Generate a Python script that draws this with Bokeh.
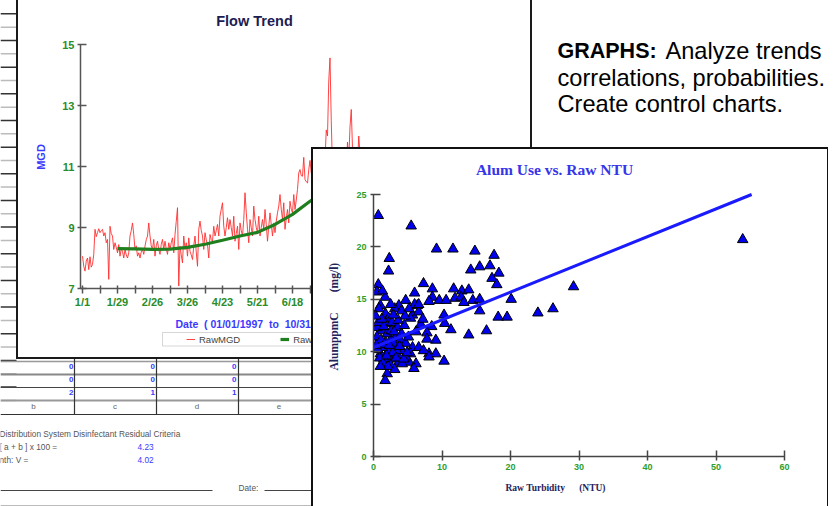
import math
from bokeh.plotting import figure
from bokeh.models import (GridBox, Label, Legend, LegendItem, FixedTicker, Range1d, Title,
                          BoxAnnotation)
from bokeh.core.properties import value
from bokeh.embed import file_html
from bokeh.resources import INLINE

# ------------------------------------------------------------------ data
# Flow Trend (daily raw flow, MGD), day 0 = 01/01/1997
raw_mgd = [
    8.06, 7.73, 7.57, 7.90, 8.00, 7.62, 8.04, 7.70, 7.79, 8.12, 8.94, 8.70,
    8.83, 8.96, 8.83, 8.90, 8.94, 8.72, 8.83, 8.50, 8.61, 7.30, 9.04, 8.80,
    8.72, 8.28, 8.50, 8.35, 8.17, 8.44, 8.06, 8.30, 8.22, 8.00, 8.28, 8.10,
    8.00, 8.17, 8.72, 8.90, 9.15, 8.77, 8.28, 8.40, 8.06, 8.17, 8.00, 8.20,
    8.28, 8.12, 8.39, 8.60, 8.72, 9.15, 8.72, 8.40, 8.28, 8.61, 8.06, 8.40,
    8.55, 8.28, 8.12, 8.45, 8.61, 8.28, 8.55, 8.30, 8.12, 8.50, 8.28, 8.50,
    8.66, 8.17, 8.77, 9.20, 9.65, 7.08, 8.39, 8.10, 7.84, 8.72, 8.28, 8.50,
    8.06, 8.66, 8.22, 8.10, 7.95, 8.39, 8.72, 8.20, 7.73, 8.94, 9.21, 8.90,
    8.72, 8.28, 8.83, 8.60, 8.44, 8.00, 8.77, 8.60, 8.55, 9.04, 8.72, 8.90,
    9.10, 8.72, 9.37, 9.60, 9.81, 9.04, 8.72, 9.00, 9.32, 8.94, 9.26, 9.00,
    8.72, 9.37, 8.55, 8.80, 9.04, 8.28, 9.15, 8.90, 8.72, 9.26, 10.14, 9.50,
    8.94, 8.50, 9.26, 9.00, 8.72, 9.70, 9.26, 9.00, 8.83, 9.37, 8.72, 9.00,
    9.26, 8.94, 9.59, 9.10, 8.55, 9.04, 9.48, 9.10, 8.72, 9.15, 8.83, 9.20,
    9.48, 9.70, 10.08, 9.60, 9.26, 9.81, 8.94, 9.30, 9.59, 9.15, 9.86, 9.60,
    9.48, 10.08, 9.59, 9.90, 10.25, 10.79, 10.90, 10.70, 10.68, 11.30, 10.57,
    10.50, 10.46,
    10.90, 11.20, 10.80, 11.10, 10.60, 10.90, 11.30, 10.70, 11.00, 10.60,
    10.90, 11.20, 10.80,
    11.20, 12.20, 12.00, 13.80, 14.56, 12.50, 10.90,
    10.70, 11.00, 10.50, 10.80, 11.20, 10.60, 10.90, 10.40, 10.80, 11.10,
    10.90, 11.80, 11.20, 12.30, 12.87, 11.60, 10.90,
    10.60, 11.00, 11.10, 12.00, 11.40, 10.80,
    10.50, 10.90, 11.10, 10.70, 10.40, 10.80, 11.00, 10.60, 10.30, 10.70,
    10.90, 10.50, 10.20, 10.60, 10.80, 10.40, 10.10, 10.50, 10.70, 10.30,
    10.60, 10.90, 10.40, 10.20, 10.50, 10.80, 10.30, 10.00, 10.40, 10.60,
    10.20, 10.50, 10.70, 10.30, 9.90, 10.30, 10.50, 10.10, 9.80, 10.20,
    10.40, 10.00, 9.70, 10.10, 10.30, 9.90, 9.60, 10.00, 10.20, 9.80,
    9.50, 9.90, 10.10, 9.70, 9.40, 9.80, 10.00, 9.60, 9.30, 9.70,
    9.90, 9.50, 9.20, 9.60, 9.80, 9.40, 9.10, 9.50, 9.70, 9.30,
    9.00, 9.40, 9.60, 9.20, 8.90, 9.30, 9.50, 9.10, 8.80, 9.20,
]
raw_days = list(range(len(raw_mgd)))

avg_days = [28, 42, 56, 70, 84, 98, 112, 126, 140, 154, 168, 182,
            196, 210, 224, 238, 252, 266, 280, 294]
avg_mgd = [8.31, 8.30, 8.28, 8.29, 8.35, 8.45, 8.58, 8.72, 8.84, 9.10, 9.43,
           9.86, 10.25, 10.55, 10.75, 10.80, 10.60, 10.30, 10.00, 9.60]

flow_tick_days = [0, 14, 28, 42, 56, 70, 84, 98, 112, 126, 140, 154, 168,
                  182, 196, 210, 224, 238, 252, 266, 280, 294, 308]
flow_tick_labels = ["1/1", "", "1/29", "", "2/26", "", "3/26", "", "4/23", "",
                    "5/21", "", "6/18", "", "7/16", "", "8/13", "", "9/10", "",
                    "10/8", "", "11/5"]
flow_y_ticks = [7, 9, 11, 13, 15]

# Alum use vs raw turbidity
ntu = [0.7, 5.5, 9.2, 11.6, 14.8, 17.6, 2.3, 2.2, 14.2, 15.5, 17.0, 18.3,
       17.3, 18.0, 0.7, 7.3, 8.6, 11.7, 12.9, 13.9, 6.0, 0.5, 1.7, 4.7, 8.6,
       8.1, 9.6, 10.6, 11.9, 12.8, 13.2, 14.5, 15.5, 20.1, 24.0, 18.2, 19.5,
       15.5, 13.9, 16.5, 10.3, 10.4, 11.3, 8.5, 7.8, 9.1, 8.1, 9.1, 10.3,
       6.4, 5.7, 6.6, 6.0, 5.2, 3.7, 3.1, 2.5, 1.0, 0.8, 1.75, 2.2, 1.8, 2.7,
       3.5, 1.2, 2.0, 3.2, 3.9, 4.7, 5.7, 6.6, 5.4, 4.2, 3.0, 2.2, 1.3, 0.8,
       1.0, 1.5, 2.7, 3.7, 5.2, 6.2, 5.9, 2.5, 2.0, 1.7, 4.2, 4.7, 3.5, 1.75,
       0.5, 0.5, 1.3, 4.1, 5.4, 6.6, 7.8, 7.3, 8.1, 29.2, 26.2, 53.9,
       0.6, 1.1, 1.6, 2.4, 2.9, 3.4, 0.9, 1.4, 2.1, 2.8, 3.3, 4.4, 0.7, 1.5,
       2.6, 3.0, 4.1, 4.5, 1.9, 0.4, 2.3, 3.8, 1.2, 3.6, 2.9, 4.6, 1.0, 3.1,
       4.9, 5.1, 6.2, 6.9, 7.2, 0.3]
alum = [23.0, 22.0, 19.8, 19.8, 19.6, 19.2, 18.9, 17.7, 17.8, 18.1, 18.2,
        17.5, 17.0, 16.4, 16.4, 16.5, 16.0, 16.0, 15.8, 15.9, 15.6, 15.7,
        15.2, 14.9, 15.2, 14.8, 14.9, 14.9, 15.1, 15.2, 14.7, 14.9, 15.0,
        15.0, 13.7, 13.3, 13.3, 13.9, 11.6, 12.0, 13.5, 12.7, 12.1, 12.4,
        11.8, 11.1, 9.8, 9.8, 9.1, 14.4, 13.5, 13.8, 14.5, 14.1, 14.4, 14.1,
        14.5, 14.4, 14.1, 13.6, 13.2, 12.7, 12.8, 12.3, 12.0, 11.7, 11.4,
        11.1, 10.8, 10.4, 10.4, 9.8, 10.1, 10.4, 10.1, 10.4, 10.8, 9.8, 9.3,
        9.3, 9.0, 9.0, 8.85, 8.4, 8.7, 7.9, 7.25, 8.85, 9.5, 9.7, 10.9, 11.4,
        12.3, 15.8, 13.9, 13.2, 14.5, 11.2, 10.1, 9.5, 16.2, 14.1, 20.7,
        10.2, 11.1, 10.7, 11.0, 10.8, 10.1, 9.4, 8.9, 8.6, 9.9, 9.4, 9.3,
        12.8, 12.4, 12.0, 11.9, 11.7, 12.5, 9.6, 10.6, 10.6, 10.5, 13.1,
        13.0, 13.5, 13.4, 8.6, 8.3, 9.9, 11.4, 11.9, 12.6, 13.1, 13.4]
fit_ntu = [0.0, 55.2]
fit_alum = [10.4, 25.0]
ntu_ticks = [0, 10, 20, 30, 40, 50, 60]
alum_ticks = [0, 5, 10, 15, 20, 25]

# spreadsheet fragment
sheet_vals = [["0", "0", "0"], ["0", "0", "0"], ["2", "1", "1"]]
sheet_cols = ["b", "c", "d", "e"]
criteria_labels = ["Distribution System Disinfectant Residual Criteria",
                   "[ a + b ] x 100 =", "nth:  V ="]
criteria_vals = ["4.23", "4.02"]

SANS = "Liberation Sans"
SERIF = "Liberation Serif"
NB = "\u00a0"

# ------------------------------------------------------------------ background (page coords)
pA = figure(width=836, height=506, x_range=Range1d(0, 836), y_range=Range1d(506, 0),
            x_axis_type=None, y_axis_type=None, toolbar_location=None,
            output_backend="svg", min_border=0, outline_line_color=None,
            frame_align=False)
pA.grid.visible = False

stripe_y = [13.33 * k for k in range(1, 31)]
pA.segment(x0=0, x1=16, y0=stripe_y, y1=stripe_y,
           line_color=["#333333" if k % 2 == 0 else "#bbbbbb" for k in range(len(stripe_y))],
           line_width=1.5)
row_y = [361, 374, 387, 400, 414]
pA.segment(x0=0, x1=312, y0=row_y, y1=row_y,
           line_color=["#999999", "#888888", "#444444", "#999999", "#333333"],
           line_width=[1.5, 2, 1.2, 2, 1.2])
pA.segment(x0=[74, 156, 238], x1=[74, 156, 238], y0=357, y1=414,
           line_color="#333333", line_width=1.2)
vx, vy, vt = [], [], []
for r, row in enumerate(sheet_vals):
    for c, v in enumerate(row):
        vx.append([73, 154.5, 236][c]); vy.append([365.5, 378.5, 392.3][r]); vt.append(v)
pA.text(x=vx, y=vy, text=vt, text_align="right", text_baseline="middle",
        text_font=value(SANS), text_font_size="8px", text_font_style="bold",
        text_color="#3a3aff")
pA.text(x=[33, 114.5, 196.5, 278.5], y=405.5, text=sheet_cols, text_align="center",
        text_baseline="middle", text_font=value(SANS), text_font_size="8px",
        text_color="#666666")
pA.text(x=[-1, -1, -1], y=[433.3, 446.7, 459.3], text=criteria_labels,
        text_baseline="middle", text_font=value(SANS), text_font_size="8.3px",
        text_color="#555555")
pA.text(x=[137, 137], y=[446.7, 459.3], text=criteria_vals, text_baseline="middle",
        text_font=value(SANS), text_font_size="8.3px", text_color="#3a3aff")
pA.segment(x0=[0, 264], x1=[212, 312], y0=490, y1=490, line_color="#444444", line_width=1)
pA.text(x=[238], y=[487], text=["Date:"], text_baseline="middle",
        text_font=value(SANS), text_font_size="8.3px", text_color="#555555")
pA.segment(x0=0, x1=312, y0=505, y1=505, line_color="#bbbbbb", line_width=1)

pA.text(x=[557], y=[50.5], text=["GRAPHS:"], text_font=value(SANS),
        text_baseline="middle", text_font_size="21.5px", text_font_style="bold",
        text_color="#000000")
pA.text(x=[665, 557, 557], y=[50.5, 77, 103.5],
        text=["Analyze trends", "correlations, probabilities.", "Create control charts."],
        text_font=value(SANS), text_baseline="middle", text_font_size="23.6px",
        text_color="#000000")

# ------------------------------------------------------------------ Flow Trend window
# frame spans page x 17..529, y 2..350; axes drawn at fixed locations
B_X0, B_PXD, B_PXU = -1.6, 1.25, 30.5     # day at x=80 px, px/day, px/MGD


def bx(px):
    return B_X0 + (px - 80) / B_PXD


def by(py):
    return 7 + (288 - py) / B_PXU


pB = figure(width=516, height=359, x_range=Range1d(bx(17), bx(529)),
            y_range=Range1d(by(350), by(2)), toolbar_location=None,
            output_backend="svg", min_border_left=1, min_border_right=3,
            min_border_top=2, min_border_bottom=9, outline_line_color=None,
            frame_align=False, border_fill_color=None, background_fill_color=None)
pB.styles = {"background-color": "white",
             "box-shadow": "inset 2px 0 0 0 #1a1a1a, inset -2px -2px 0 0 #1a1a1a"}
pB.grid.visible = False
pB.xaxis.ticker = FixedTicker(ticks=flow_tick_days)
pB.xaxis.major_label_overrides = dict(zip(flow_tick_days, flow_tick_labels))
pB.xaxis.fixed_location = 7
pB.xaxis.bounds = (bx(80), bx(529))
pB.yaxis.ticker = FixedTicker(ticks=flow_y_ticks)
pB.yaxis.fixed_location = bx(80)
pB.yaxis.bounds = (7, 15)
for ax in (pB.xaxis[0], pB.yaxis[0]):
    ax.axis_line_color = "#555555"
    ax.axis_line_width = 1.5
    ax.major_tick_line_color = "#555555"
    ax.major_tick_line_width = 1.5
    ax.minor_tick_line_color = None
    ax.major_label_text_color = "#2a8c2a"
    ax.major_label_text_font = SANS
    ax.major_label_text_font_style = "bold"
    ax.major_label_text_font_size = "11px"
pB.xaxis.major_tick_in = 3
pB.xaxis.major_tick_out = 5
pB.xaxis.major_label_standoff = 2
pB.yaxis.major_tick_in = 6
pB.yaxis.major_tick_out = 3
pB.yaxis.major_label_standoff = 3

r_raw = pB.line(raw_days, raw_mgd, line_color="#ff3030", line_alpha=0.9, line_width=1)
r_avg = pB.line(avg_days, avg_mgd, line_color="#1f7f1f", line_width=3.2)

pB.add_layout(Label(x=bx(254), y=by(20.5), text="Flow Trend", text_align="center",
                    text_baseline="middle", text_font=SANS, text_font_size="14.5px",
                    text_font_style="bold", text_color="#1c1c52"))
pB.add_layout(Label(x=bx(40), y=by(156.5), text="MGD", angle=math.pi / 2,
                    text_align="center", text_baseline="middle", text_font=SANS,
                    text_font_size="11px", text_font_style="bold", text_color="#3a3aff"))
pB.add_layout(Label(x=bx(175), y=by(323),
                    text=f"Date{NB}{NB}( 01/01/1997{NB}{NB}to{NB}{NB}10/31/1997)",
                    text_align="left", text_baseline="middle", text_font=SANS,
                    text_font_size="10.5px", text_font_style="bold", text_color="#3a3aff"))
pB.add_layout(BoxAnnotation(left=bx(162), right=bx(600), top=by(332), bottom=by(345.5),
                            fill_color="white", fill_alpha=1, line_color="#777777",
                            line_width=1))
leg = Legend(items=[LegendItem(label="RawMGD", renderers=[r_raw]),
                    LegendItem(label="RawMGD Avg", renderers=[r_avg])],
             location=(186 - 17, 350 - 344.5), orientation="horizontal",
             border_line_color=None, background_fill_alpha=0, padding=0, margin=0,
             spacing=40, glyph_width=9, glyph_height=10, label_standoff=4,
             label_height=10, label_text_font=SANS, label_text_font_size="9.5px",
             label_text_color="#444444")
pB.add_layout(leg)
pB.add_layout(Label(x=bx(501.5), y=by(152), text="O",
                    text_align="center", text_baseline="middle", text_font=SANS,
                    text_font_size="12px", text_font_style="bold", text_color="#3a3aff"))

# ------------------------------------------------------------------ Alum vs NTU window
C_PXX, C_PXY = 411 / 60, 262 / 25


def cx(px):
    return (px - 373) / C_PXX


def cy(py):
    return (456 - py) / C_PXY


pC = figure(width=517, height=359, x_range=Range1d(0, 60), y_range=Range1d(0, cy(150)),
            toolbar_location=None, output_backend="svg",
            min_border_left=62, min_border_right=44, min_border_top=3,
            min_border_bottom=50, outline_line_color=None, frame_align=False,
            border_fill_color=None, background_fill_color=None)
pC.styles = {"background-color": "white",
             "box-shadow": "inset 2px 2px 0 0 #111111, inset -1px 0 0 0 #111111"}
pC.grid.visible = False
pC.xaxis.ticker = FixedTicker(ticks=ntu_ticks)
pC.yaxis.ticker = FixedTicker(ticks=alum_ticks)
pC.yaxis.bounds = (0, 25)
for ax in (pC.xaxis[0], pC.yaxis[0]):
    ax.axis_line_color = "#444444"
    ax.axis_line_width = 1.5
    ax.major_tick_line_color = "#444444"
    ax.major_tick_line_width = 1.5
    ax.minor_tick_line_color = None
    ax.major_label_text_color = "#2e9e2e"
    ax.major_label_text_font = SANS
    ax.major_label_text_font_style = "bold"
    ax.major_label_text_font_size = "9px"
pC.xaxis.major_tick_in = 6
pC.xaxis.major_tick_out = 4
pC.xaxis.major_label_standoff = 3
pC.yaxis.major_tick_in = 7
pC.yaxis.major_tick_out = 3
pC.yaxis.major_label_standoff = 4

pC.scatter(ntu, alum, marker="triangle", size=10.5, fill_color="#0000ee",
           line_color="#000000", line_width=1)
pC.line(fit_ntu, fit_alum, line_color="#1a1aff", line_width=3)

pC.add_layout(Label(x=cx(554), y=cy(169), text="Alum Use vs. Raw NTU",
                    text_align="center", text_baseline="middle", text_font=SERIF,
                    text_font_size="15.5px", text_font_style="bold", text_color="#3636e8"))
pC.add_layout(Title(text="AlumppmC" + NB * 7 + "(mg/l)", align="left", offset=86,
                    standoff=28, text_font=SERIF, text_font_size="11.5px",
                    text_font_style="bold", text_color="#23235c"), "left")
pC.add_layout(Title(text="Raw Turbidity" + NB * 6 + "(NTU)", align="left", offset=132,
                    standoff=17, text_font=SERIF, text_font_size="9.5px",
                    text_font_style="bold", text_color="#23235c"), "below")

# ------------------------------------------------------------------ overlapping layout
grid = GridBox(children=[(pA, 0, 0, 3, 4), (pB, 0, 1, 2, 2), (pC, 1, 2, 2, 2)],
               rows={0: "147px", 1: "212px", 2: "147px"},
               cols={0: "16px", 1: "295px", 2: "221px", 3: "304px"})

open("out.html", "w").write(file_html(grid, INLINE, title="Flow Trend / Alum Use vs. Raw NTU"))
